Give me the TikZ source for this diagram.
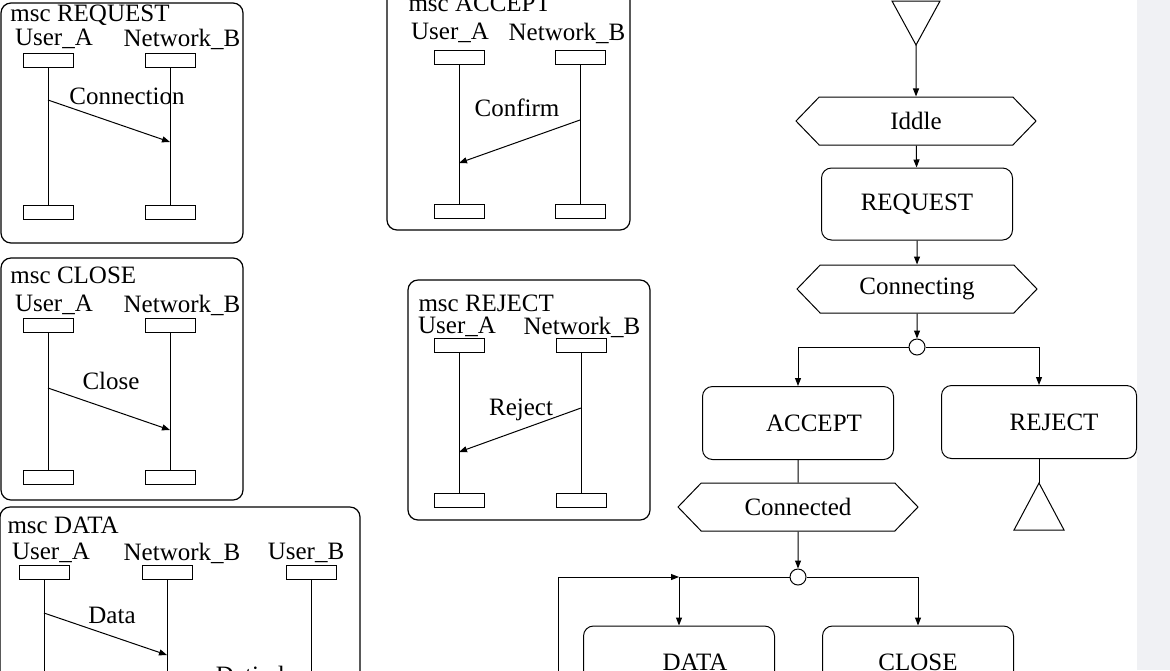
\documentclass[tikz,border=0pt]{standalone}
\usepackage{fontspec}
\setmainfont{Liberation Serif}
\usetikzlibrary{arrows.meta,shapes.symbols}
\definecolor{stripgray}{RGB}{240,241,244}

\begin{document}
\begin{tikzpicture}[x=0.5pt, y=-0.5pt, font=\fontsize{12.5}{15}\selectfont,
  line width=0.5pt, >={Triangle[length=4pt,width=3pt]},
  frame/.style={draw, line width=0.6pt, rounded corners=5pt},
  title/.style={anchor=west, inner sep=0pt},
  inst/.style={draw, minimum width=25pt, minimum height=7pt, inner sep=0pt},
  msg/.style={->},
  state/.style={draw, shape=signal, signal to=east and west, signal pointer angle=92,
    minimum width=120pt, minimum height=24pt, inner sep=0pt},
  task/.style={draw, rounded corners=5pt, minimum width=95.5pt, minimum height=36pt},
  junction/.style={draw, circle, fill=white, minimum size=8pt, inner sep=0pt}]
  \clip (0,0) rectangle (1170,670);
  \fill[stripgray] (1137,0) rectangle (1170,670);

  % msc REQUEST
  \draw[frame] (1,3) rectangle (243,243);
  \node[title] (reqt) at (10,15) {msc REQUEST};
  \node (reqla) at (54,39) {User\_A};
  \node (reqlb) at (182,39) {Network\_B};
  \node[inst] (reqa1) at (48,60) {};
  \node[inst] (reqb1) at (170,60) {};
  \node[inst] (reqa2) at (48,212) {};
  \node[inst] (reqb2) at (170,212) {};
  \draw (reqa1) -- (reqa2) (reqb1) -- (reqb2);
  \coordinate (reqs) at (48,100);
  \coordinate (reqr) at (170,142);
  \draw[msg] (reqs) -- (reqr);
  \node (reqm) at (127,96) {Connection};

  % msc ACCEPT
  \draw[frame] (387,-10) rectangle (630,230);
  \node[title] (acct) at (408,3) {msc ACCEPT};
  \node (accla) at (450,33) {User\_A};
  \node (acclb) at (567,33) {Network\_B};
  \node[inst] (acca1) at (459,57) {};
  \node[inst] (accb1) at (580,57) {};
  \node[inst] (acca2) at (459,211) {};
  \node[inst] (accb2) at (580,211) {};
  \draw (acca1) -- (acca2) (accb1) -- (accb2);
  \coordinate (accs) at (580,120);
  \coordinate (accr) at (459,163);
  \draw[msg] (accs) -- (accr);
  \node (accm) at (517,108) {Confirm};

  % msc CLOSE
  \draw[frame] (1,258) rectangle (243,500);
  \node[title] (clot) at (10,275) {msc CLOSE};
  \node (clola) at (54,305) {User\_A};
  \node (clolb) at (182,305) {Network\_B};
  \node[inst] (cloa1) at (48,325) {};
  \node[inst] (clob1) at (170,325) {};
  \node[inst] (cloa2) at (48,477) {};
  \node[inst] (clob2) at (170,477) {};
  \draw (cloa1) -- (cloa2) (clob1) -- (clob2);
  \coordinate (clos) at (48,388);
  \coordinate (clor) at (170,430);
  \draw[msg] (clos) -- (clor);
  \node (clom) at (111,381) {Close};

  % msc REJECT
  \draw[frame] (408,280) rectangle (650,520);
  \node[title] (rejt) at (418,303) {msc REJECT};
  \node (rejla) at (457,327) {User\_A};
  \node (rejlb) at (582,327) {Network\_B};
  \node[inst] (reja1) at (459,345) {};
  \node[inst] (rejb1) at (581,345) {};
  \node[inst] (reja2) at (459,500) {};
  \node[inst] (rejb2) at (581,500) {};
  \draw (reja1) -- (reja2) (rejb1) -- (rejb2);
  \coordinate (rejs) at (581,408);
  \coordinate (rejr) at (459,452);
  \draw[msg] (rejs) -- (rejr);
  \node (rejm) at (521,410) {Reject};

  % msc DATA
  \draw[frame] (0,507) rectangle (360,720);
  \node[title] (datt) at (7,525) {msc DATA};
  \node (datla) at (51,553) {User\_A};
  \node (datlb) at (182,553) {Network\_B};
  \node (datlc) at (306,553) {User\_B};
  \node[inst] (data1) at (44,572) {};
  \node[inst] (datb1) at (167,572) {};
  \node[inst] (datc1) at (311,572) {};
  \coordinate (data2) at (44,700);
  \coordinate (datb2) at (167,700);
  \coordinate (datc2) at (311,700);
  \draw (data1) -- (data2) (datb1) -- (datb2) (datc1) -- (datc2);
  \coordinate (dats) at (44,613);
  \coordinate (datr) at (167,655);
  \draw[msg] (dats) -- (datr);
  \node (datm) at (112,615) {Data};
  \node (datm2) at (250,675) {Datind};

  % process
  \coordinate (startl) at (892,1);
  \coordinate (startr) at (940,1);
  \coordinate (start) at (916,45);
  \draw (startl) -- (startr) -- (start) -- cycle;
  \node[state] (iddle) at (916,121) {Iddle};
  \node[task] (request) at (917,204) {REQUEST};
  \node[state] (connecting) at (917,289) {Connecting};
  \node[junction] (choice) at (917,347) {};
  \node[task, minimum height=36.5pt] (accept) at (798,423) {\hspace*{16pt}ACCEPT};
  \node[task, minimum width=97.5pt, minimum height=36.5pt] (reject) at (1039,422) {\hspace*{15pt}REJECT};
  \coordinate (stop) at (1039,483);
  \coordinate (stopl) at (1014,530);
  \coordinate (stopr) at (1064,530);
  \draw (stop) -- (stopl) -- (stopr) -- cycle;
  \node[state] (connected) at (798,507) {Connected};
  \node[junction] (next) at (798,577) {};
  \node[task] (data) at (679,662) {\hspace*{16pt}DATA};
  \node[task] (close) at (918,662) {CLOSE};
  \coordinate (loop) at (558,700);
  \coordinate (loopin) at (679,577);

  \draw[->] (start) -- (iddle);
  \draw[->] (iddle) -- (request);
  \draw[->] (request) -- (connecting);
  \draw[->] (connecting) -- (choice);
  \draw[->] (choice) -| (accept);
  \draw[->] (choice) -| (reject);
  \draw (reject) -- (stop);
  \draw (accept) -- (connected);
  \draw[->] (connected) -- (next);
  \draw[->] (next) -| (data);
  \draw[->] (next) -| (close);
  \draw[->] (loop) |- (loopin);
\end{tikzpicture}
\end{document}
